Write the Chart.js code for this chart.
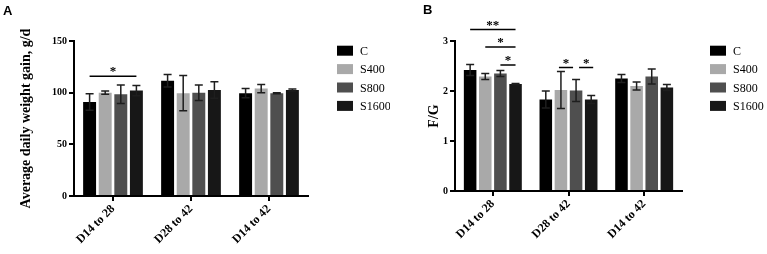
<!DOCTYPE html>
<html>
<head>
<meta charset="utf-8">
<script src="https://cdn.jsdelivr.net/npm/chart.js@4"></script>
<style>
  body { margin: 0; background: #fff; }
  #wrap { position: relative; width: 767px; height: 254px; }
  .panel { position: absolute; top: 0; height: 254px; }
  .tag { position: absolute; font: bold 13px 'Liberation Sans', Arial, sans-serif; color: #000; }
</style>
</head>
<body>
<div id="wrap">
  <div class="panel" style="left:0;width:390px"><canvas id="chartA"></canvas></div>
  <div class="panel" style="left:390px;width:377px"><canvas id="chartB"></canvas></div>
  <div class="tag" style="left:3px;top:3px">A</div>
  <div class="tag" style="left:423px;top:2px">B</div>
</div>
<script>
// categories and series
const groups = ['D14 to 28', 'D28 to 42', 'D14 to 42'];
const seriesNames = ['C', 'S400', 'S800', 'S1600'];

// A: average daily weight gain, g/d (mean and error)
const gainC = [91, 111.5, 99.5];
const gainS400 = [100, 99.5, 104];
const gainS800 = [98.5, 100, 99.5];
const gainS1600 = [102, 102.5, 102.5];
const gainErrC = [8, 6, 4.5];
const gainErrS400 = [1.5, 17, 4];
const gainErrS800 = [9, 7.5, 0.5];
const gainErrS1600 = [5, 8, 1];
const gainTicks = [0, 50, 100, 150];
// [category, from series, to series, height, mark]
const gainSig = [[0, 0, 3, 116, '*']];

// B: F/G
const fgC = [2.42, 1.83, 2.25];
const fgS400 = [2.29, 2.02, 2.10];
const fgS800 = [2.35, 2.01, 2.29];
const fgS1600 = [2.14, 1.83, 2.07];
const fgErrC = [0.11, 0.17, 0.08];
const fgErrS400 = [0.06, 0.37, 0.08];
const fgErrS800 = [0.06, 0.22, 0.15];
const fgErrS1600 = [0.01, 0.08, 0.06];
const fgTicks = [0, 1, 2, 3];
const fgSig = [
  [0, 0, 3, 3.23, '**'],
  [0, 1, 3, 2.88, '*'],
  [0, 2, 3, 2.52, '*'],
  [1, 1, 2, 2.47, '*'],
  [1, 2, 3, 2.47, '*']
];
// pixel insets of the line ends (style only), same order as fgSig
const fgSigInset = [[0, 0], [0, 0], [0, 0], [-2, 3], [3, -2]];

const barColors = ['#000000', '#a9a9a9', '#4f4f4f', '#171717'];
const serif = "'Liberation Serif', 'Times New Roman', serif";

// error bars drawn through the scales
const errorBars = {
  id: 'errorBars',
  afterDatasetsDraw(chart) {
    const { ctx } = chart;
    const y = chart.scales.y;
    ctx.save();
    ctx.strokeStyle = '#1e1e1e';
    ctx.lineWidth = 1.5;
    chart.data.datasets.forEach((ds, i) => {
      chart.getDatasetMeta(i).data.forEach((bar, j) => {
        const hi = y.getPixelForValue(ds.data[j] + ds.errors[j]);
        const lo = y.getPixelForValue(ds.data[j] - ds.errors[j]);
        ctx.beginPath();
        ctx.moveTo(bar.x, hi); ctx.lineTo(bar.x, lo);
        ctx.moveTo(bar.x - 4, hi); ctx.lineTo(bar.x + 4, hi);
        ctx.moveTo(bar.x - 4, lo); ctx.lineTo(bar.x + 4, lo);
        ctx.stroke();
      });
    });
    ctx.restore();
  }
};

// significance lines with stars
const sigMarks = {
  id: 'sigMarks',
  afterDraw(chart, args, opts) {
    const { ctx } = chart;
    const y = chart.scales.y;
    const insets = opts.insets || [];
    ctx.save();
    ctx.strokeStyle = '#000';
    ctx.fillStyle = '#000';
    ctx.lineWidth = 1.5;
    ctx.font = `bold 13px ${serif}`;
    ctx.textAlign = 'center';
    ctx.textBaseline = 'alphabetic';
    (opts.marks || []).forEach(([cat, a, b, v, txt], k) => {
      const [il, ir] = insets[k] || [0, 0];
      const x1 = chart.getDatasetMeta(a).data[cat].x + il;
      const x2 = chart.getDatasetMeta(b).data[cat].x - ir;
      const py = y.getPixelForValue(v);
      ctx.beginPath();
      ctx.moveTo(x1, py); ctx.lineTo(x2, py);
      ctx.stroke();
      ctx.fillText(txt, (x1 + x2) / 2, py - 1);
    });
    ctx.restore();
  }
};

// legend to the right of the plot
const sideLegend = {
  id: 'sideLegend',
  afterDraw(chart, args, opts) {
    const { ctx, chartArea } = chart;
    ctx.save();
    ctx.font = `12px ${serif}`;
    ctx.textBaseline = 'middle';
    chart.data.datasets.forEach((ds, i) => {
      const x = chartArea.right + opts.gap;
      const cy = opts.top + i * opts.step;
      ctx.fillStyle = ds.backgroundColor;
      ctx.fillRect(x, cy - 5, 16, 10);
      ctx.fillStyle = '#000';
      ctx.fillText(ds.label, x + 23, cy + 1);
    });
    ctx.restore();
  }
};

function makeChart(id, values, errors, ticks, title, marks, insets, lay) {
  return new Chart(document.getElementById(id), {
    type: 'bar',
    data: {
      labels: groups,
      datasets: seriesNames.map((name, i) => ({
        label: name,
        data: values[i],
        errors: errors[i],
        backgroundColor: barColors[i],
        categoryPercentage: 0.8,
        barPercentage: 0.83
      }))
    },
    plugins: [errorBars, sigMarks, sideLegend],
    options: {
      responsive: true,
      maintainAspectRatio: false,
      animation: false,
      layout: { padding: { left: lay.padLeft, right: lay.padRight, top: 41, bottom: 0 } },
      plugins: {
        legend: { display: false },
        tooltip: { enabled: false },
        sigMarks: { marks: marks, insets: insets },
        sideLegend: { gap: lay.legGap, top: 50.7, step: 18.4 }
      },
      scales: {
        x: {
          grid: { offset: false, drawOnChartArea: false, color: '#000', lineWidth: 2, tickLength: 5 },
          border: { color: '#000', width: 2 },
          ticks: { color: '#000', font: { family: serif, weight: 'bold', size: 12 }, minRotation: 45, maxRotation: 45, padding: 1 },
          afterFit: s => { s.height = lay.xHeight; }
        },
        y: {
          min: ticks[0],
          max: ticks[ticks.length - 1],
          afterBuildTicks: s => { s.ticks = ticks.map(v => ({ value: v })); },
          grid: { drawOnChartArea: false, color: '#000', lineWidth: 2, tickLength: 5 },
          border: { color: '#000', width: 2 },
          ticks: { color: '#000', font: { family: serif, weight: 'bold', size: 10 }, padding: 2 },
          title: { display: true, text: title, color: '#000', font: { family: serif, weight: 'bold', size: 14 }, padding: { top: 6, bottom: 4 } },
          afterFit: s => { s.width = lay.yWidth; }
        }
      }
    }
  });
}

makeChart('chartA',
  [gainC, gainS400, gainS800, gainS1600],
  [gainErrC, gainErrS400, gainErrS800, gainErrS1600],
  gainTicks, 'Average daily weight gain, g/d', gainSig, [],
  { padLeft: 12, yWidth: 62, padRight: 82, xHeight: 58, legGap: 29 });

makeChart('chartB',
  [fgC, fgS400, fgS800, fgS1600],
  [fgErrC, fgErrS400, fgErrS800, fgErrS1600],
  fgTicks, 'F/G', fgSig, fgSigInset,
  { padLeft: 30, yWidth: 35, padRight: 85, xHeight: 63, legGap: 28 });
</script>
</body>
</html>
